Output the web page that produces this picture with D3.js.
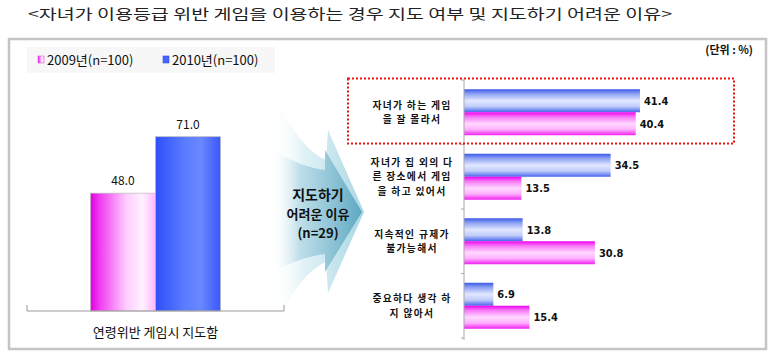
<!DOCTYPE html>
<html><head><meta charset="utf-8">
<script src="https://cdn.jsdelivr.net/npm/d3@7"></script>
<style>
body{margin:0;background:#fff;}
svg{display:block;font-family:"Noto Sans CJK KR","Noto Sans",sans-serif;}
</style></head>
<body>
<svg id="chart" width="776" height="354"></svg>
<script>
const title = "<자녀가 이용등급 위반 게임을 이용하는 경우 지도 여부 및 지도하기 어려운 이유>";
const unitLabel = "(단위 : %)";
const seriesNames = ["2009년(n=100)", "2010년(n=100)"];
const leftCategories = ["연령위반 게임시 지도함"];
const left2009 = [48.0];
const left2010 = [71.0];
const arrowText = ["지도하기", "어려운 이유", "(n=29)"];
const reasons = [
  ["자녀가 하는 게임", "을 잘 몰라서"],
  ["자녀가 집 외의 다", "른 장소에서 게임", "을 하고 있어서"],
  ["지속적인 규제가", "불가능해서"],
  ["중요하다 생각 하", "지 않아서"]
];
const reasons2010 = [41.4, 34.5, 13.8, 6.9];
const reasons2009 = [40.4, 13.5, 30.8, 15.4];

const svg = d3.select("#chart");
const defs = svg.append("defs");

function grad(id, horizontal, stops) {
  const g = defs.append("linearGradient").attr("id", id)
    .attr("x1", 0).attr("y1", 0)
    .attr("x2", horizontal ? 1 : 0).attr("y2", horizontal ? 0 : 1);
  stops.forEach(s => g.append("stop").attr("offset", s[0]).attr("stop-color", s[1]).attr("stop-opacity", s[2] === undefined ? 1 : s[2]));
}
grad("lpink", true, [[0, "#e000e0"], [0.15, "#f040f0"], [0.55, "#ffccff"], [0.8, "#fff0ff"], [1, "#ffb8ff"]]);
grad("lblue", true, [[0, "#3050f8"], [0.45, "#5a7cff"], [0.7, "#6a88ff"], [1, "#3a58f8"]]);
grad("rblue", false, [[0, "#3a58e8"], [0.2, "#8ea2f4"], [0.5, "#e2e8ff"], [0.75, "#c0ccfa"], [1, "#4664ea"]]);
grad("rpink", false, [[0, "#f000f0"], [0.2, "#f878f8"], [0.5, "#ffd8ff"], [0.75, "#ffb0ff"], [1, "#f020f0"]]);
grad("arrowOuter", true, [[0, "#ffffff", 0], [0.35, "#d8eef4", 0.8], [1, "#a9d6e3", 1]]);
grad("arrowInner", true, [[0, "#ffffff", 0], [0.3, "#bcdde8", 0.9], [1, "#5ea8c2", 1]]);

// title
svg.append("text").attr("x", 28).attr("y", 19)
  .attr("font-size", 14).attr("fill", "#222")
  .attr("textLength", 644).attr("lengthAdjust", "spacingAndGlyphs")
  .text(title);

// panel
svg.append("rect").attr("x", 9).attr("y", 39).attr("width", 757).attr("height", 310)
  .attr("fill", "#fff").attr("stroke", "#c4c4c4").attr("stroke-width", 2.5);

// legend
svg.append("rect").attr("x", 27).attr("y", 47).attr("width", 248).attr("height", 26).attr("fill", "#f7f7f7");
const legColors = ["#ff99ff", "#4466ff"];
const legX = [38, 163];
seriesNames.forEach((n, i) => {
  svg.append("rect").attr("x", legX[i]).attr("y", 56).attr("width", 6).attr("height", 7)
    .attr("fill", i === 0 ? "url(#lpink)" : legColors[i]).attr("stroke", i === 0 ? "#e060e0" : "#3355ee").attr("stroke-width", 0.6);
  svg.append("text").attr("x", legX[i] + 9).attr("y", 65).attr("font-size", 13).attr("fill", "#111").text(n);
});

// arrow
svg.append("path")
  .attr("d", "M272,92 Q300,150 326,160 L328,130 L364,212 L328,293 L326,262 Q300,272 272,330 Z")
  .attr("fill", "url(#arrowOuter)");
svg.append("path")
  .attr("d", "M272,150 Q304,168 325,170 L325,150 L362,212 L325,272 L325,254 Q304,256 272,272 Z")
  .attr("fill", "url(#arrowInner)");
arrowText.forEach((t, i) => {
  svg.append("text").attr("x", 318).attr("y", 200 + i * 19).attr("text-anchor", "middle")
    .attr("font-size", i === 0 ? 14 : 13).attr("font-weight", "bold").attr("fill", "#111").text(t);
});

// left chart
const lx = d3.scaleBand().domain(leftCategories).range([27, 284]).paddingOuter(0.488);
const lInner = d3.scaleBand().domain(seriesNames).range([0, lx.bandwidth()]);
const ly = d3.scaleLinear().domain([0, 100]).range([311, 65.5]);
const lg = svg.append("g");
leftCategories.forEach((c, ci) => {
  const vals = [left2009[ci], left2010[ci]];
  vals.forEach((v, si) => {
    const x = lx(c) + lInner(seriesNames[si]);
    lg.append("rect").attr("x", x).attr("y", ly(v)).attr("width", lInner.bandwidth()).attr("height", ly(0) - ly(v))
      .attr("fill", si === 0 ? "url(#lpink)" : "url(#lblue)").attr("stroke", "#bbb").attr("stroke-width", 0.7);
    lg.append("text").attr("x", x + lInner.bandwidth() / 2).attr("y", ly(v) - 8)
      .attr("text-anchor", "middle").attr("font-size", 12).attr("fill", "#111").text(v.toFixed(1));
  });
  lg.append("text").attr("x", lx(c) + lx.bandwidth() / 2).attr("y", 337)
    .attr("text-anchor", "middle").attr("font-size", 13).attr("fill", "#111").text(c);
});
lg.append("path").attr("d", `M27,${ly(0) - 6}V${ly(0)}H284V${ly(0) - 6}`)
  .attr("fill", "none").attr("stroke", "#999").attr("stroke-width", 1);

// right chart
const rx = d3.scaleLinear().domain([0, 50]).range([464, 676.5]);
const ry = d3.scaleBand().domain(d3.range(reasons.length)).range([80, 338]).paddingInner(0.287).paddingOuter(0.1435);
const rInner = d3.scaleBand().domain(["2010", "2009"]).range([0, ry.bandwidth()]);
const rg = svg.append("g");
reasons.forEach((lines, i) => {
  const vals = [["2010", reasons2010[i], "url(#rblue)"], ["2009", reasons2009[i], "url(#rpink)"]];
  vals.forEach(([k, v, f]) => {
    const y = ry(i) + rInner(k);
    rg.append("rect").attr("x", rx(0)).attr("y", y).attr("width", rx(v) - rx(0)).attr("height", rInner.bandwidth()).attr("fill", f);
    rg.append("text").attr("x", rx(v) + 4).attr("y", y + rInner.bandwidth() / 2 + 4)
      .attr("font-size", 11).attr("font-weight", "bold").attr("font-family", "'Liberation Sans Narrow','DejaVu Sans Condensed',sans-serif")
      .attr("fill", "#111").text(v.toFixed(1));
  });
  const cy = ry(i) + ry.bandwidth() / 2;
  const n = lines.length;
  lines.forEach((t, j) => {
    rg.append("text").attr("x", 412).attr("y", cy + (j - (n - 1) / 2) * 14.5 + 3.5)
      .attr("text-anchor", "middle").attr("font-size", 9.8).attr("letter-spacing", 1.3)
      .attr("font-weight", "bold").attr("fill", "#111").text(t);
  });
});
const ticks = d3.range(reasons.length + 1).map(i => 80 + i * ry.step());
rg.append("line").attr("x1", rx(0)).attr("x2", rx(0)).attr("y1", 80).attr("y2", 340).attr("stroke", "#aaa");
ticks.forEach(t => rg.append("line").attr("x1", rx(0) - 3).attr("x2", rx(0)).attr("y1", t).attr("y2", t).attr("stroke", "#aaa"));

// highlight box
svg.append("rect").attr("x", 348).attr("y", 78.5).attr("width", 386).attr("height", 65)
  .attr("fill", "none").attr("stroke", "#ee1111").attr("stroke-width", 2).attr("stroke-dasharray", "2,2");

// unit
svg.append("text").attr("x", 753).attr("y", 54).attr("text-anchor", "end")
  .attr("font-size", 11).attr("font-weight", "bold").attr("fill", "#111").text(unitLabel);
</script>
</body></html>
